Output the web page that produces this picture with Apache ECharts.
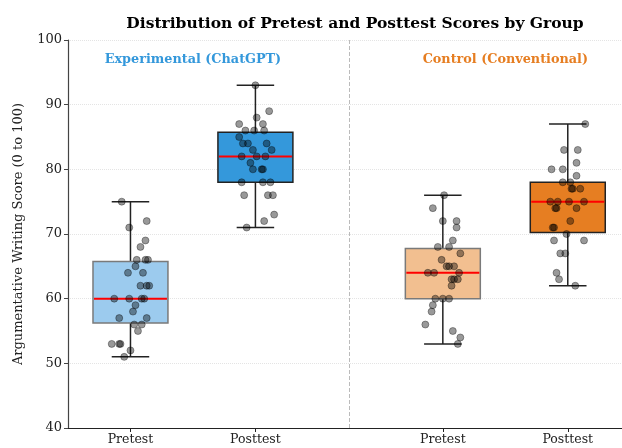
<!DOCTYPE html>
<html><head><meta charset="utf-8">
<script src="https://cdn.jsdelivr.net/npm/echarts@6/dist/echarts.min.js"></script>
<style>html,body{margin:0;padding:0;background:#fff}#c{width:622px;height:448px}</style>
</head><body><div id="c"></div>
<script>
// ---- data ----
const positions = [1, 2, 3.5, 4.5];
const tickLabels = ['Pretest', 'Posttest', 'Pretest', 'Posttest'];
const groupNames = ['Experimental (ChatGPT)', 'Control (Conventional)'];
// [min, q1, median, q3, max]
const expPreStats  = [51, 56.25, 60, 65.75, 75];
const expPostStats = [71, 78, 82, 85.75, 93];
const conPreStats  = [53, 60, 64, 67.75, 76];
const conPostStats = [62, 70.25, 75, 78, 87];
// individual scores
const expPreScores  = [75,71,72,69,68,66,66,66,65,64,64,62,62,62,60,60,60,60,59,58,57,57,56,56,55,53,53,53,52,51];
const expPreJitter  = [-0.07,-0.01,0.13,0.12,0.08,0.05,0.14,0.12,0.04,-0.02,0.10,0.08,0.13,0.15,-0.13,-0.01,0.09,0.11,0.04,0.02,-0.09,0.13,0.03,0.09,0.06,-0.15,-0.09,-0.08,0.00,-0.05];
const expPostScores = [93,89,88,87,87,86,86,86,85,84,84,84,83,83,82,82,82,81,80,80,80,78,78,78,76,76,76,73,72,71];
const expPostJitter = [0.00,0.11,0.01,-0.13,0.06,-0.08,-0.01,0.07,-0.13,-0.10,-0.06,0.09,-0.02,0.13,-0.11,0.01,0.08,-0.04,-0.02,0.05,0.06,-0.11,0.06,0.12,-0.09,0.10,0.14,0.15,0.07,-0.07];
const conPreScores  = [76,74,72,72,71,69,68,68,67,66,65,65,65,64,64,64,63,63,63,62,60,60,60,59,58,56,55,54,53];
const conPreJitter  = [0.01,-0.08,0.00,0.11,0.11,0.08,-0.04,0.05,0.14,-0.01,0.03,0.05,0.09,-0.12,-0.07,0.13,0.07,0.09,0.12,0.07,-0.06,0.00,0.05,-0.08,-0.09,-0.14,0.08,0.14,0.12];
const conPostScores = [87,83,83,81,80,80,79,78,78,77,77,77,75,75,75,75,74,74,74,72,71,71,70,69,69,67,67,64,63,62];
const conPostJitter = [0.14,-0.03,0.08,0.07,-0.13,-0.04,0.07,-0.04,0.02,0.03,0.04,0.10,-0.14,-0.08,0.01,0.13,-0.10,-0.09,0.07,0.02,-0.12,-0.11,-0.01,-0.11,0.13,-0.06,-0.02,-0.09,-0.07,0.06];

const boxStats = [expPreStats, expPostStats, conPreStats, conPostStats];
const boxFill = ['#9ccbee', '#3498db', '#f2bf90', '#e67e22'];
const boxEdge = ['#7a7a7a', '#222222', '#7a7a7a', '#222222'];
const scoreSets = [[expPreScores, expPreJitter],[expPostScores, expPostJitter],[conPreScores, conPreJitter],[conPostScores, conPostJitter]];

const serif = '"DejaVu Serif", serif';
const chart = echarts.init(document.getElementById('c'), null, {renderer: 'canvas'});

const boxData = boxStats.map((s, i) => [positions[i], ...s, i]);
const pts = [];
scoreSets.forEach((set, i) => {
  set[0].forEach((v, k) => pts.push([positions[i] + set[1][k], v]));
});

const option = {
  animation: false,
  title: {
    text: 'Distribution of Pretest and Posttest Scores by Group',
    left: 350, top: 11, textAlign: 'center',
    textStyle: {fontFamily: serif, fontWeight: 'bold', fontSize: 15.5, color: '#000'}
  },
  grid: {left: 68, right: 0, top: 40, bottom: 20, containLabel: false},
  xAxis: {
    type: 'value', min: 0.5, max: 4.934,
    axisLine: {show: true, onZero: false, lineStyle: {color: '#222', width: 1.2}},
    axisTick: {show: true, customValues: positions, length: 4, lineStyle: {color: '#222'}},
    axisLabel: {customValues: positions, fontFamily: serif, fontSize: 12.5, color: '#222', margin: 5,
      formatter: v => tickLabels[positions.indexOf(v)]},
    splitLine: {show: false}
  },
  yAxis: {
    type: 'value', min: 40, max: 100, interval: 10,
    name: 'Argumentative Writing Score (0 to 100)', nameLocation: 'middle', nameGap: 43,
    nameTextStyle: {fontFamily: serif, fontSize: 13, color: '#222'},
    axisLine: {show: true, lineStyle: {color: '#444', width: 1.2}},
    axisTick: {show: true, length: 4, lineStyle: {color: '#444'}},
    axisLabel: {fontFamily: serif, fontSize: 13, color: '#222', margin: 6},
    splitLine: {show: true, lineStyle: {type: 'dotted', color: '#e4e4e4', width: 1}}
  },
  series: [
    {
      type: 'custom', data: boxData, z: 2,
      encode: {x: 0, y: [1, 5]},
      renderItem: function (params, api) {
        const p = api.value(0), idx = api.value(6);
        const bw = api.size([0.6, 0])[0];
        const cw = api.size([0.3, 0])[0];
        const cx = api.coord([p, 0])[0];
        const yMin = api.coord([p, api.value(1)])[1];
        const yQ1 = api.coord([p, api.value(2)])[1];
        const yMed = api.coord([p, api.value(3)])[1];
        const yQ3 = api.coord([p, api.value(4)])[1];
        const yMax = api.coord([p, api.value(5)])[1];
        const ls = {stroke: '#222', lineWidth: 1.5};
        return {type: 'group', children: [
          {type: 'line', shape: {x1: cx, y1: yMin, x2: cx, y2: yQ1}, style: ls},
          {type: 'line', shape: {x1: cx, y1: yQ3, x2: cx, y2: yMax}, style: ls},
          {type: 'line', shape: {x1: cx - cw/2, y1: yMin, x2: cx + cw/2, y2: yMin}, style: ls},
          {type: 'line', shape: {x1: cx - cw/2, y1: yMax, x2: cx + cw/2, y2: yMax}, style: ls},
          {type: 'rect', shape: {x: cx - bw/2, y: yQ3, width: bw, height: yQ1 - yQ3},
            style: {fill: boxFill[idx], stroke: boxEdge[idx], lineWidth: 1.5}},
          {type: 'line', shape: {x1: cx - bw/2 + 1, y1: yMed, x2: cx + bw/2 - 1, y2: yMed},
            style: {stroke: '#ff0000', lineWidth: 2}}
        ]};
      },
      markLine: {
        silent: true, symbol: 'none', label: {show: false},
        lineStyle: {type: 'dashed', color: '#bbbbbb', width: 1},
        data: [{xAxis: 2.75}]
      }
    },
    {
      type: 'scatter', data: pts, z: 5, symbolSize: 7,
      itemStyle: {color: 'rgba(0,0,0,0.5)', borderColor: 'rgba(0,0,0,0.55)', borderWidth: 0.8}
    }
  ]
};
chart.setOption(option);

const l1 = chart.convertToPixel({gridIndex: 0}, [1.5, 97]);
const l2 = chart.convertToPixel({gridIndex: 0}, [4.0, 97]);
chart.setOption({graphic: [
  {type: 'text', x: l1[0], y: l1[1], style: {text: groupNames[0], fill: '#3498db', font: 'bold 12.8px ' + serif, textAlign: 'center', textVerticalAlign: 'middle'}},
  {type: 'text', x: l2[0], y: l2[1], style: {text: groupNames[1], fill: '#e67e22', font: 'bold 12.8px ' + serif, textAlign: 'center', textVerticalAlign: 'middle'}}
]});
</script></body></html>
